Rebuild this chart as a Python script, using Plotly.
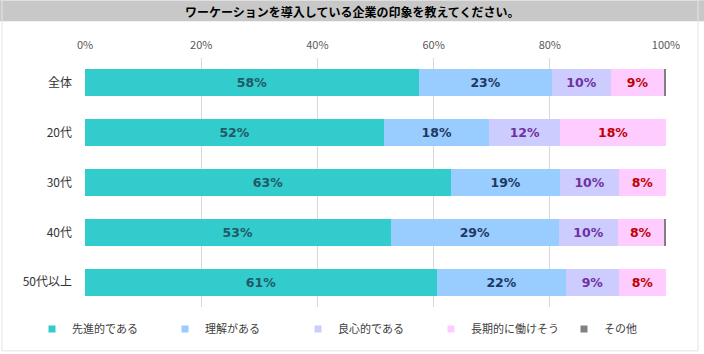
import plotly.graph_objects as go

categories = ["全体", "20代", "30代", "40代", "50代以上"]
series_names = ["先進的である", "理解がある", "良心的である", "長期的に働けそう", "その他"]
s_senshin = [57.5, 51.5, 63.0, 52.6, 60.6]
s_rikai = [22.9, 18.1, 18.8, 29.0, 22.2]
s_ryoshin = [10.1, 12.2, 10.1, 10.1, 9.1]
s_choki = [9.2, 18.2, 8.1, 7.9, 8.1]
s_other = [0.3, 0.0, 0.0, 0.5, 0.0]
tick_vals = [0, 20, 40, 60, 80, 100]
tick_text = ["0%", "20%", "40%", "60%", "80%", "100%"]
title_text = "ワーケーションを導入している企業の印象を教えてください。"

all_series = [s_senshin, s_rikai, s_ryoshin, s_choki, s_other]
colors = ["#33CCCC", "#99CCFF", "#CCCCFF", "#FFCCFF", "#808080"]
text_colors = ["#215968", "#1F3864", "#7030A0", "#C00000", "#404040"]
show_text = [True, True, True, True, False]

W, H = 704, 354
ML, MR, MT, MB = 85, 38, 58, 46
PW, PH = W - ML - MR, H - MT - MB

fig = go.Figure()
for name, vals, col, tcol, st in zip(series_names, all_series, colors, text_colors, show_text):
    fig.add_trace(go.Bar(
        y=categories, x=vals, orientation="h", name=name,
        marker=dict(color=col, line=dict(width=0)),
        text=[f"{v:.0f}%" for v in vals] if st else None,
        textposition="inside" if st else "none",
        insidetextanchor="middle", textangle=0, constraintext="none",
        textfont=dict(family="DejaVu Sans", size=12.5, color=tcol, weight="bold"),
        showlegend=False, hoverinfo="skip",
    ))
    fig.add_trace(go.Scatter(
        x=[None], y=[None], mode="markers", name=name,
        marker=dict(symbol="square", size=7, color=col),
        showlegend=True,
    ))

# title band
fig.add_shape(type="rect", xref="paper", yref="paper",
              x0=-ML / PW, x1=(W - ML) / PW,
              y0=(PH + MT - 21) / PH, y1=(PH + MT) / PH,
              fillcolor="#C8C8C8", line=dict(width=0), layer="below")
fig.add_annotation(text=title_text, xref="paper", yref="paper",
                   x=(W / 2 - ML) / PW, y=(PH + MT - 11) / PH,
                   showarrow=False, xanchor="center", yanchor="middle",
                   font=dict(family="Noto Sans CJK JP", size=12, color="#000000", weight="bold"))
# outer border
fig.add_shape(type="rect", xref="paper", yref="paper",
              x0=(-ML + 2) / PW, x1=(W - ML - 6) / PW,
              y0=-(MB - 2) / PH, y1=(PH + MT) / PH,
              fillcolor="rgba(0,0,0,0)", line=dict(width=1, color="#E4E4E4"), layer="below")

fig.update_layout(
    width=W, height=H,
    margin=dict(l=ML, r=MR, t=MT, b=MB),
    barmode="stack", bargap=0.46,
    plot_bgcolor="white", paper_bgcolor="white",
    font=dict(family="Noto Sans CJK JP", color="#333333"),
    xaxis=dict(range=[0, 100], side="top", tickvals=tick_vals, ticktext=tick_text,
               showgrid=True, gridcolor="#D9D9D9", gridwidth=1, zeroline=False,
               showline=False, ticks="", ticklabelstandoff=6,
               tickfont=dict(size=11, color="#595959")),
    yaxis=dict(autorange="reversed", showgrid=False, showline=False, ticks="",
               ticklabelstandoff=12, tickfont=dict(size=12, color="#333333")),
    legend=dict(orientation="h", x=(32 - ML) / PW, xanchor="left",
                y=-(329 - (MT + PH)) / PH, yanchor="middle",
                traceorder="normal",
                entrywidth=88, entrywidthmode="pixels", itemwidth=30,
                font=dict(size=11, color="#404040"), tracegroupgap=0),
    showlegend=True,
)

fig.write_html("out.html")
